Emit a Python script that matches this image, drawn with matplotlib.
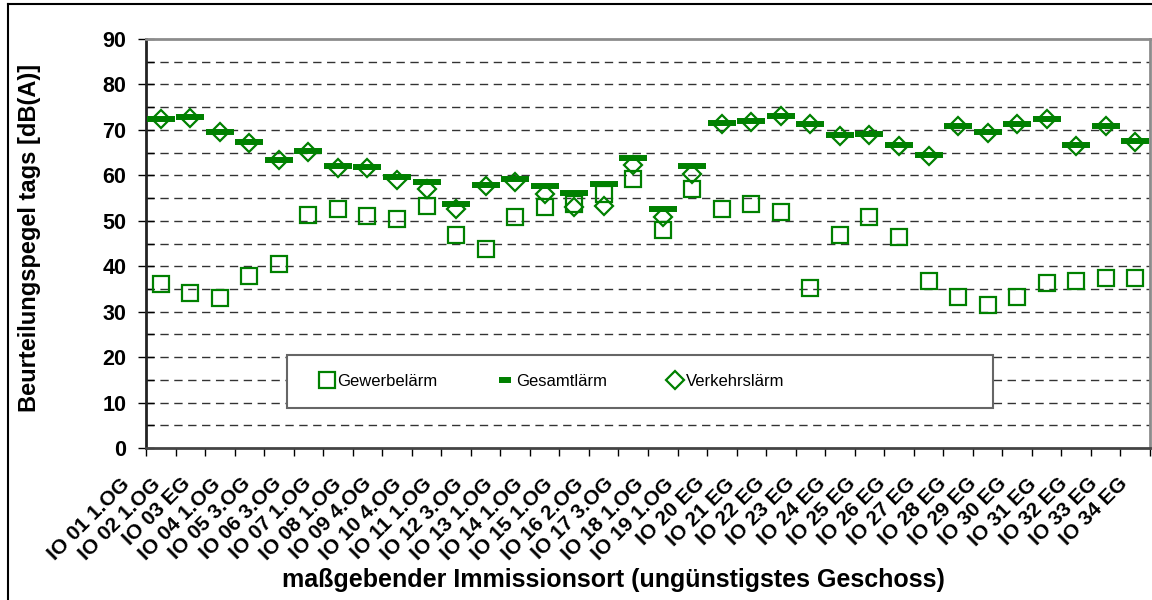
import numpy as np
import matplotlib
matplotlib.use("Agg")
import matplotlib.pyplot as plt
from matplotlib.lines import Line2D
from matplotlib.patches import Rectangle
from matplotlib.transforms import ScaledTranslation
from matplotlib.ticker import MultipleLocator, FixedLocator

# Immissionsorte (ungünstigstes Geschoss)
orte = ["IO 01 1.OG", "IO 02 1.OG", "IO 03 EG", "IO 04 1.OG", "IO 05 3.OG",
        "IO 06 3.OG", "IO 07 1.OG", "IO 08 1.OG", "IO 09 4.OG", "IO 10 4.OG",
        "IO 11 1.OG", "IO 12 3.OG", "IO 13 1.OG", "IO 14 1.OG", "IO 15 1.OG",
        "IO 16 2.OG", "IO 17 3.OG", "IO 18 1.OG", "IO 19 1.OG", "IO 20 EG",
        "IO 21 EG", "IO 22 EG", "IO 23 EG", "IO 24 EG", "IO 25 EG",
        "IO 26 EG", "IO 27 EG", "IO 28 EG", "IO 29 EG", "IO 30 EG",
        "IO 31 EG", "IO 32 EG", "IO 33 EG", "IO 34 EG"]

gewerbe = [36.1, 34.2, 32.9, 37.8, 40.5, 51.3, 52.7, 51.1, 50.4, 53.3,
           46.9, 43.7, 50.8, 53.0, 53.6, 56.0, 59.1, 48.0, 57.1, 52.6,
           53.7, 52.0, 35.3, 46.9, 50.8, 46.5, 36.8, 33.3, 31.5, 33.2,
           36.2, 36.8, 37.5, 37.3]

gesamt = [72.3, 72.8, 69.6, 67.3, 63.4, 65.4, 62.1, 61.9, 59.6, 58.5,
          53.8, 57.9, 59.3, 57.7, 56.2, 58.2, 63.9, 52.5, 62.1, 71.5,
          72.0, 73.1, 71.2, 68.8, 69.0, 66.7, 64.5, 70.9, 69.5, 71.3,
          72.5, 66.7, 70.9, 67.6]

verkehr = [72.3, 72.6, 69.5, 67.2, 63.3, 65.2, 61.6, 61.6, 59.0, 56.9,
           52.6, 57.7, 58.6, 55.9, 53.0, 53.2, 62.2, 50.9, 60.4, 71.4,
           71.8, 73.1, 71.2, 68.7, 68.9, 66.5, 64.3, 70.9, 69.3, 71.3,
           72.3, 66.5, 70.8, 67.4]

gruen = "#008000"
plt.rcParams['font.family'] = ['Liberation Sans', 'DejaVu Sans']

fig = plt.figure(figsize=(11.52, 6), dpi=100)
ax = fig.add_axes([146 / 1152, 1 - 448 / 600, 1004 / 1152, 409 / 600])

x = np.arange(len(orte)) + 0.5

ax.plot(x, gewerbe, linestyle="none", marker="s", markersize=12,
        markerfacecolor="none", markeredgecolor=gruen, markeredgewidth=1.6,
        label="Gewerbelärm", zorder=3)
ax.plot(x, gesamt, linestyle="none", marker="_", markersize=19.5,
        markeredgecolor=gruen, markeredgewidth=4.3, label="Gesamtlärm", zorder=4)
ax.plot(x, verkehr, linestyle="none", marker="D", markersize=9,
        markerfacecolor="none", markeredgecolor=gruen, markeredgewidth=1.6,
        label="Verkehrslärm", zorder=5)

ax.set_xlim(0, len(orte))
ax.set_ylim(0, 90)

# y-Achse
ax.yaxis.set_major_locator(MultipleLocator(10))
ax.yaxis.set_minor_locator(MultipleLocator(5))
ax.tick_params(axis="y", which="major", direction="inout", length=12, width=1,
               labelsize=15.5, pad=8)
ax.tick_params(axis="y", which="minor", direction="in", length=6, width=1)
for lab in ax.get_yticklabels():
    lab.set_fontweight("bold")

# x-Achse: Striche an den Grenzen, Beschriftung in der Mitte
ax.xaxis.set_major_locator(FixedLocator(x))
ax.xaxis.set_minor_locator(FixedLocator(np.arange(len(orte) + 1)))
ax.set_xticklabels(orte, rotation=45, ha="right", rotation_mode="anchor",
                   fontsize=15, fontweight="bold")
ax.tick_params(axis="x", which="major", length=0, pad=14)
ax.tick_params(axis="x", which="minor", direction="out", length=6, width=1)
# Beschriftungen wie im Original etwas weiter auseinander gezogen
labels = ax.get_xticklabels()
mitte = (len(labels) - 1) / 2
for i, lab in enumerate(labels):
    dx = -29 + (i - mitte) * 0.7
    lab.set_transform(lab.get_transform()
                      + ScaledTranslation(dx / 100, -7 / 100, fig.dpi_scale_trans))

# Gitterlinien
for yv in np.arange(5, 90, 5):
    ax.axhline(yv, color="#333333", linewidth=1, linestyle=(0, (6, 4)), zorder=1)

ax.spines["left"].set_color("#222222")
ax.spines["bottom"].set_color("#444444")
ax.spines["top"].set_color("#8c8c8c")
ax.spines["right"].set_color("#8c8c8c")
for sp in ax.spines.values():
    sp.set_linewidth(2)

# Legendenkasten
kasten = Rectangle((141 / 1004, 40 / 409), 706 / 1004, 53 / 409,
                   transform=ax.transAxes, facecolor="white",
                   edgecolor="#666666", linewidth=1.5, zorder=9)
ax.add_patch(kasten)
leg = ax.legend(loc="center left", ncol=3,
                bbox_to_anchor=(174 / 1004, 66.5 / 409),
                fontsize=12, frameon=False, handlelength=0.8,
                handletextpad=0.25, columnspacing=3.66, borderpad=0,
                borderaxespad=0)
leg.set_zorder(10)
leg.legend_handles[1].set_markersize(9)

fig.text(30 / 1152, 1 - 238 / 600, "Beurteilungspegel tags [dB(A)]",
         rotation=90, ha="center", va="center", fontsize=17, fontweight="bold")
fig.text(613 / 1152, 1 - 580 / 600,
         "maßgebender Immissionsort (ungünstigstes Geschoss)",
         ha="center", va="center", fontsize=18, fontweight="bold")

# Rahmen um das Diagramm
fig.add_artist(Line2D([8 / 1152, 1], [1 - 4 / 600, 1 - 4 / 600],
                      transform=fig.transFigure, color="black", linewidth=1.5))
fig.add_artist(Line2D([8 / 1152, 8 / 1152], [0, 1 - 4 / 600],
                      transform=fig.transFigure, color="black", linewidth=1.5))

fig.savefig("out.png", dpi=100)
